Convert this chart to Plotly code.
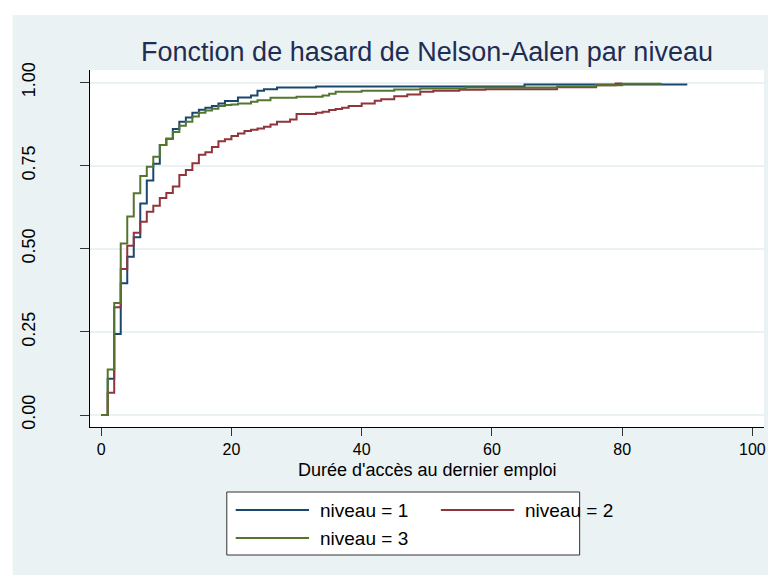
import plotly.graph_objects as go

# Nelson-Aalen steps (time, value)
t_niv1 = [0, 1, 2, 3, 4, 5, 6, 7, 8, 9, 10, 11, 12, 13, 14, 15, 16, 17, 18, 19, 21, 23, 24, 25, 27, 33, 65, 90]
v_niv1 = [0, 0.109, 0.244, 0.396, 0.476, 0.535, 0.636, 0.705, 0.756, 0.812, 0.831, 0.860, 0.882, 0.895,
          0.909, 0.918, 0.924, 0.929, 0.937, 0.944, 0.955, 0.961, 0.975, 0.980, 0.985, 0.988, 0.994, 0.994]

t_niv2 = [0, 1, 2, 3, 4, 5, 6, 7, 8, 9, 10, 11, 12, 13, 14, 15, 16, 17, 18, 19, 20, 21, 22, 23, 24, 25,
          26, 27, 29, 30, 33, 34, 35, 36, 37, 38, 40, 42, 43, 45, 47, 49, 51, 55, 59, 70, 76, 79, 80]
v_niv2 = [0, 0.067, 0.324, 0.439, 0.509, 0.548, 0.581, 0.611, 0.629, 0.653, 0.668, 0.687, 0.722, 0.737,
          0.757, 0.783, 0.790, 0.806, 0.823, 0.829, 0.839, 0.847, 0.854, 0.858, 0.862, 0.867, 0.874, 0.882,
          0.889, 0.905, 0.909, 0.912, 0.917, 0.920, 0.924, 0.929, 0.937, 0.945, 0.950, 0.959, 0.964, 0.972,
          0.975, 0.978, 0.980, 0.986, 0.992, 0.997, 0.997]

t_niv3 = [0, 1, 2, 3, 4, 5, 6, 7, 8, 9, 10, 11, 12, 13, 14, 15, 16, 17, 18, 19, 20, 21, 23, 24, 26, 30,
          34, 35, 36, 40, 45, 49, 56, 70, 76, 80, 86]
v_niv3 = [0, 0.137, 0.337, 0.516, 0.597, 0.667, 0.719, 0.747, 0.777, 0.812, 0.831, 0.851, 0.870, 0.882,
          0.898, 0.909, 0.916, 0.921, 0.929, 0.932, 0.934, 0.937, 0.942, 0.947, 0.954, 0.957, 0.961, 0.966,
          0.972, 0.975, 0.979, 0.982, 0.985, 0.988, 0.992, 0.996, 0.998]

names = ["niveau = 1", "niveau = 2", "niveau = 3"]
colors = ["#1a476f", "#90353b", "#55752f"]
y_ticks = [0, 0.25, 0.5, 0.75, 1.0]
y_labels = ["0.00", "0.25", "0.50", "0.75", "1.00"]
x_ticks = [0, 20, 40, 60, 80, 100]

# page body has an 8px margin, so the figure is drawn 8px in from the window corner
OFF = 8
W, H = 777 - OFF, 575 - OFF
L, R, T, B = 86 - OFF, 777 - 766, 70 - OFF, 575 - 427
pw, ph = W - L - R, H - T - B


def px(x):
    return (x - OFF - L) / pw


def py(y):
    return (H - B - (y - OFF)) / ph


fig = go.Figure()
for t, v, name, col in zip([t_niv1, t_niv2, t_niv3], [v_niv1, v_niv2, v_niv3], names, colors):
    fig.add_trace(go.Scatter(x=t, y=v, mode='lines', line_shape='hv', name=name,
                             line=dict(color=col, width=2), showlegend=False))

shapes = [
    # graph region background
    dict(type='rect', xref='paper', yref='paper', x0=px(8), x1=px(770), y0=py(575), y1=py(15),
         fillcolor='#eaf2f3', line_width=0, layer='below'),
    # plot region
    dict(type='rect', xref='paper', yref='paper', x0=0, x1=1, y0=0, y1=1,
         fillcolor='white', line_width=0, layer='below'),
    # legend box
    dict(type='rect', xref='paper', yref='paper', x0=px(224), x1=px(580), y0=py(555), y1=py(492),
         fillcolor='white', line=dict(color='#333333', width=1)),
]
annotations = [
    dict(text="Durée d'accès au dernier emploi", xref='paper', yref='paper', x=px(426), y=py(470),
         xanchor='center', yanchor='middle', showarrow=False, font=dict(size=18, color='black')),
]
legend_pos = [(233, 510), (440, 510), (233, 538)]
for (lx, ly), name, col in zip(legend_pos, names, colors):
    shapes.append(dict(type='line', xref='paper', yref='paper', x0=px(lx), x1=px(lx + 74),
                       y0=py(ly), y1=py(ly), line=dict(color=col, width=2)))
    annotations.append(dict(text=name, xref='paper', yref='paper', x=px(lx + 83), y=py(ly),
                            xanchor='left', yanchor='middle', showarrow=False,
                            font=dict(size=19, color='black')))

fig.update_layout(
    width=W, height=H,
    margin=dict(l=L, r=R, t=T, b=B, pad=0),
    paper_bgcolor='white',
    plot_bgcolor='rgba(0,0,0,0)',
    font=dict(family='Liberation Sans, Arial, sans-serif', color='black'),
    title=dict(text="Fonction de hasard de Nelson-Aalen par niveau", x=px(426), xref='paper',
               xanchor='center', y=1 - (52 - OFF) / H, yanchor='middle',
               font=dict(size=27, color='#1e2d53')),
    xaxis=dict(range=[-1.72, 101.78], tickvals=x_ticks, ticks='outside', ticklen=8, tickwidth=1,
               tickcolor='#333333', showgrid=False, zeroline=False, showline=True, linecolor='black',
               linewidth=1, tickfont=dict(size=16)),
    yaxis=dict(range=[-0.036, 1.0376], tickvals=y_ticks, ticktext=y_labels, tickangle=-90,
               ticks='outside', ticklen=9, tickwidth=1, tickcolor='#333333', showgrid=True,
               gridcolor='#eaf2f3', gridwidth=2, zeroline=False, showline=True, linecolor='black',
               linewidth=1, tickfont=dict(size=18), ticklabelstandoff=38),
    shapes=shapes,
    annotations=annotations,
)

fig.write_html("out.html")
